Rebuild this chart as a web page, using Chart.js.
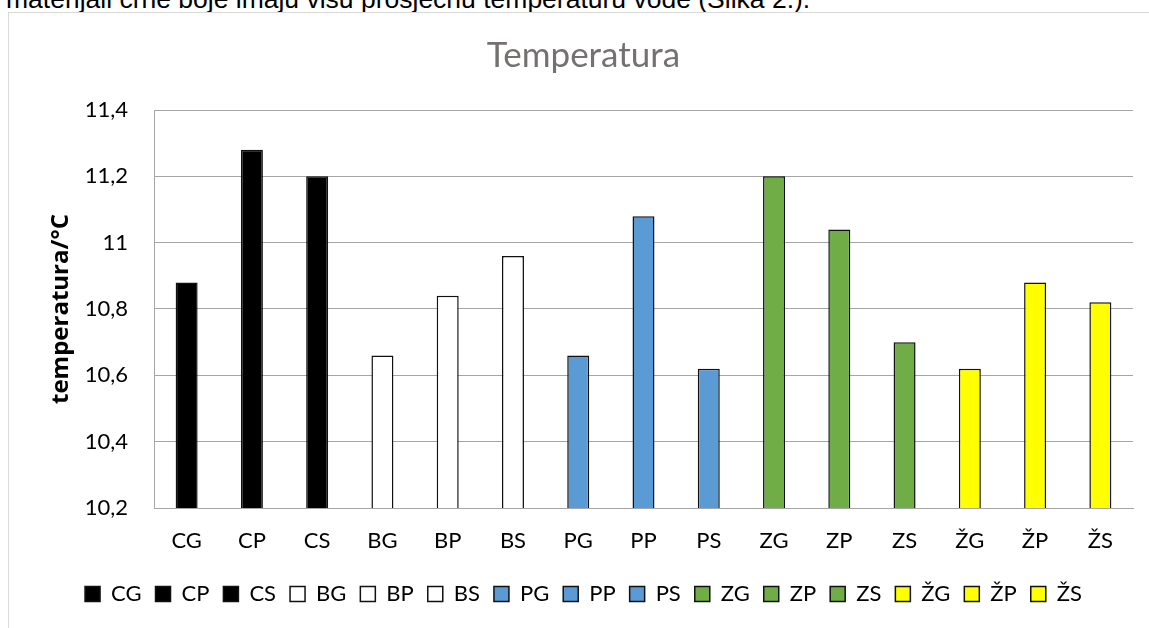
<!DOCTYPE html>
<html>
<head>
<meta charset="utf-8">
<script src="https://cdn.jsdelivr.net/npm/chart.js@4.4.1/dist/chart.umd.min.js"></script>
<style>
  html, body { margin: 0; padding: 0; background: #ffffff; overflow: hidden; }
  body { width: 1149px; height: 628px; position: relative; }
  #lead { position: absolute; left: 6px; top: -14px; font-family: "Liberation Sans", Arial, sans-serif; font-size: 26.5px; line-height: 26px; color: #000; white-space: nowrap; }
  #frame { position: absolute; left: 8px; top: 12px; width: 1200px; height: 700px; border: 1px solid #d9d9d9; box-sizing: border-box; }
  #wrap { position: absolute; left: 0; top: 0; width: 1149px; height: 628px; }
</style>
</head>
<body>
<div id="lead">materijali crne boje imaju višu prosječnu temperaturu vode (Slika 2.).</div>
<div id="frame"></div>
<div id="wrap"><canvas id="c" width="1149" height="628"></canvas></div>
<script>
const categories = ['CG', 'CP', 'CS', 'BG', 'BP', 'BS', 'PG', 'PP', 'PS', 'ZG', 'ZP', 'ZS', 'ŽG', 'ŽP', 'ŽS'];
const temperatures = [10.88, 11.28, 11.2, 10.66, 10.84, 10.96, 10.66, 11.08, 10.62, 11.2, 11.04, 10.7, 10.62, 10.88, 10.82];
const barColors = ['#000000', '#000000', '#000000', '#ffffff', '#ffffff', '#ffffff', '#5b9bd5', '#5b9bd5', '#5b9bd5', '#70ad47', '#70ad47', '#70ad47', '#ffff00', '#ffff00', '#ffff00'];
const yTickValues = [10.2, 10.4, 10.6, 10.8, 11, 11.2, 11.4];
const yTickLabels = ['10,2', '10,4', '10,6', '10,8', '11', '11,2', '11,4'];
const chartTitle = 'Temperatura';
const yAxisTitle = 'temperatura/°C';

const FONT = 'Lato, "Open Sans", sans-serif';
const gridColor = '#a6a6a6';

new Chart(document.getElementById('c'), {
  type: 'bar',
  data: {
    labels: categories,
    datasets: [{
      label: chartTitle,
      data: temperatures,
      backgroundColor: barColors,
      borderColor: '#111111',
      borderWidth: 1.5,
      borderSkipped: false,
      categoryPercentage: 1.0,
      barPercentage: 0.337
    }]
  },
  options: {
    responsive: false,
    animation: false,
    devicePixelRatio: 1,
    layout: { padding: { left: 34, right: 16, top: 0, bottom: 13 } },
    plugins: {
      title: {
        display: true,
        text: chartTitle,
        color: '#757171',
        font: { family: FONT, size: 35, weight: 'normal' },
        padding: { top: 35, bottom: 33 }
      },
      legend: {
        display: true,
        position: 'bottom',
        onClick: null,
        labels: {
          font: { family: FONT, size: 22 },
          color: '#000000',
          boxWidth: 15,
          boxHeight: 15,
          padding: 14,
          generateLabels: (chart) => categories.map((c, i) => ({
            text: c,
            fillStyle: barColors[i],
            strokeStyle: '#111111',
            lineWidth: 1.5,
            hidden: false,
            index: i
          }))
        }
      },
      tooltip: { enabled: false }
    },
    scales: {
      x: {
        grid: { display: false, drawTicks: false },
        border: { display: true, color: gridColor, width: 1 },
        ticks: { color: '#000000', font: { family: FONT, size: 22 }, padding: 20, maxRotation: 0, autoSkip: false },
        afterFit: (s) => { s.height = 61; }
      },
      y: {
        min: 10.2,
        max: 11.4,
        afterBuildTicks: (s) => { s.ticks = yTickValues.map(v => ({ value: v })); },
        grid: { color: gridColor, lineWidth: 1, drawTicks: false },
        border: { display: true, color: gridColor, width: 1 },
        ticks: {
          color: '#000000',
          font: { family: FONT, size: 22 },
          padding: 26,
          callback: (v) => { const i = yTickValues.findIndex(t => Math.abs(t - v) < 1e-6); return i >= 0 ? yTickLabels[i] : ''; }
        },
        title: {
          display: true,
          text: yAxisTitle,
          color: '#000000',
          font: { family: '"Open Sans", Lato, sans-serif', size: 24, weight: 'bold' },
          padding: { top: 13, bottom: 0 }
        },
        afterFit: (s) => { s.width = 120; }
      }
    }
  }
});
</script>
</body>
</html>
